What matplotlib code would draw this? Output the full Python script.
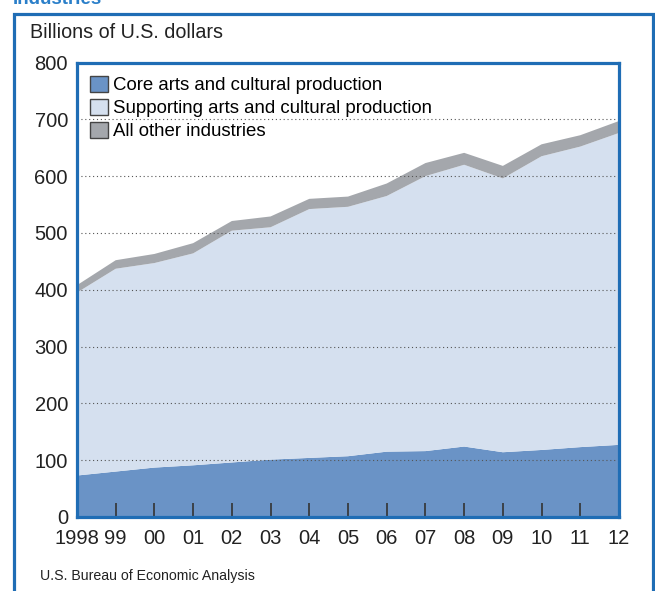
import numpy as np
import matplotlib.pyplot as plt
from matplotlib.patches import Rectangle, Patch

plt.rcParams['font.family'] = ['Liberation Sans', 'DejaVu Sans']

years = np.arange(1998, 2013)
year_labels = ['1998', '99', '00', '01', '02', '03', '04', '05', '06', '07',
               '08', '09', '10', '11', '12']
core = [73, 80, 87, 91, 96, 101, 104, 107, 115, 116, 124, 114, 118, 123, 127]
supporting = [322, 357, 360, 373, 408, 409, 438, 439, 450, 484, 496, 482, 517, 529, 549]
other = [13, 15, 16, 18, 17, 19, 18, 18, 22, 23, 21, 22, 21, 20, 21]
series_names = ['Core arts and cultural production',
                'Supporting arts and cultural production',
                'All other industries']

blue = '#1f6db5'
colours = ['#6a93c6', '#d5e0ef', '#a4a7ac']

W, H = 655, 591
fig = plt.figure(figsize=(W / 100, H / 100), dpi=100)

# outer frame and cut-off title
fig.patches.append(Rectangle((14 / W, -0.1), (652.5 - 14) / W, 1.1 - 14 / H,
                             transform=fig.transFigure, fill=False,
                             edgecolor=blue, linewidth=2.3))
fig.text(13 / W, 1 - 3.5 / H, 'Industries', color='#2a7fc9', fontsize=13.5,
         fontweight='bold', va='baseline', ha='left')
fig.text(30 / W, 1 - 32 / H, 'Billions of U.S. dollars', fontsize=14.2,
         va='center', ha='left', color='#222222')
fig.text(40 / W, 1 - 576 / H, 'U.S. Bureau of Economic Analysis', fontsize=10.2,
         va='center', ha='left', color='#222222')

ax = fig.add_axes([77 / W, (H - 517) / H, (619 - 77) / W, (517 - 62.5) / H])
ax.stackplot(years, core, supporting, other, colors=colours, linewidth=0)

ax.set_xlim(1998, 2012)
ax.set_ylim(0, 800)
ax.set_yticks(np.arange(0, 801, 100))
ax.set_xticks(years)
ax.set_xticklabels(year_labels)
ax.tick_params(axis='y', length=0, pad=6.5, labelsize=14.5, labelcolor='#222222')
ax.tick_params(axis='x', direction='in', length=10, width=1.2, color='#333333',
               pad=9, labelsize=14.5, labelcolor='#222222')
ticks = ax.xaxis.get_major_ticks()
ticks[0].tick1line.set_visible(False)
ticks[-1].tick1line.set_visible(False)

ax.set_axisbelow(False)
ax.yaxis.grid(True, linestyle=(0, (1, 2.5)), color='#555555', linewidth=0.8)
for s in ax.spines.values():
    s.set_color(blue)
    s.set_linewidth(2.3)
    s.set_zorder(5)

handles = [Patch(facecolor=c, edgecolor='#444444', linewidth=1) for c in colours]
ax.legend(handles, series_names, loc='upper left', bbox_to_anchor=(0, 1),
          frameon=False, fontsize=13.4, handlelength=0.95, handleheight=0.95,
          handletextpad=0.3, labelspacing=0.25, borderaxespad=0.4,
          borderpad=0.3)

fig.savefig('out.png', dpi=100)
